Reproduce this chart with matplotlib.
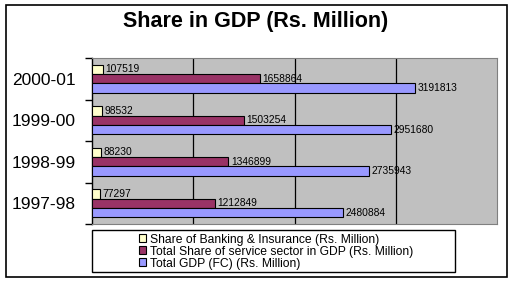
import matplotlib
matplotlib.use("Agg")
import matplotlib.pyplot as plt
from matplotlib.patches import Rectangle, Patch
import numpy as np

plt.rcParams['font.family'] = ['Liberation Sans', 'DejaVu Sans']

categories = ["1997-98", "1998-99", "1999-00", "2000-01"]
banking = [77297, 88230, 98532, 107519]
service = [1212849, 1346899, 1503254, 1658864]
gdp = [2480884, 2735943, 2951680, 3191813]
series_names = ["Share of Banking & Insurance (Rs. Million)",
                "Total Share of service sector in GDP (Rs. Million)",
                "Total GDP (FC) (Rs. Million)"]
colors = ["#FFFFCC", "#993366", "#9999FF"]

W, H = 514, 283
fig = plt.figure(figsize=(W / 100, H / 100), dpi=100)

def fx(px):
    return px / W

def fy(py):
    return 1 - py / H

# figure border
fig.patches.append(Rectangle((fx(6), fy(277)), fx(507) - fx(6), fy(5) - fy(277),
                             transform=fig.transFigure, fill=False,
                             edgecolor="black", linewidth=1.2))

ax = fig.add_axes([fx(92), fy(224), fx(497) - fx(92), fy(58) - fy(224)])
ax.set_facecolor("#C0C0C0")

y = np.arange(len(categories))
h = 0.225
series = [banking, service, gdp]
offsets = [h, 0, -h]
for vals, off, c in zip(series, offsets, colors):
    bars = ax.barh(y + off, vals, height=h, color=c, edgecolor="black", linewidth=0.8, zorder=3)
    for b, v in zip(bars, vals):
        ax.text(v + 25000, b.get_y() + b.get_height() / 2, str(v),
                va="center", ha="left", fontsize=7.4, zorder=4)

ax.set_xlim(0, 4000000)
ax.set_ylim(-0.5, len(categories) - 0.5)
ax.set_xticks([1000000, 2000000, 3000000])
ax.xaxis.grid(True, color="black", linewidth=0.9, zorder=1)
ax.tick_params(axis="x", length=0, labelbottom=False)

ax.set_yticks(y)
ax.set_yticklabels(categories, fontsize=12.5)
ax.tick_params(axis="y", which="major", length=0, pad=12)
ax.set_yticks(np.arange(-0.5, len(categories), 1.0), minor=True)
ax.tick_params(axis="y", which="minor", length=5, width=1, color="black", direction="out")

for s in ["top", "right", "bottom"]:
    ax.spines[s].set_color("#808080")
ax.spines["left"].set_color("black")
ax.spines["left"].set_linewidth(1)

fig.text(fx(256), fy(22), "Share in GDP (Rs. Million)", ha="center", va="center",
         fontsize=15.5, fontweight="bold")

# legend box
fig.patches.append(Rectangle((fx(92), fy(272)), fx(455) - fx(92), fy(230) - fy(272),
                             transform=fig.transFigure, fill=True, facecolor="white",
                             edgecolor="black", linewidth=1))
handles = [Patch(facecolor=c, edgecolor="black", linewidth=0.8) for c in colors]
fig.legend(handles, series_names, loc="center", bbox_to_anchor=(fx(276), fy(251.5)),
           frameon=False, fontsize=8.7, handlelength=0.6, handleheight=0.6,
           handletextpad=0.3, labelspacing=0.0, borderpad=0)

fig.savefig("out.png", dpi=100)
